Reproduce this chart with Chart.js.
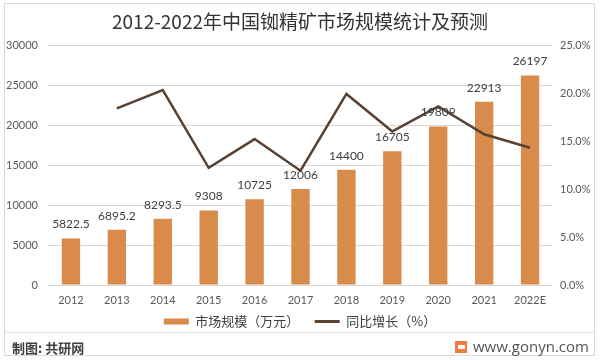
<!DOCTYPE html>
<html>
<head>
<meta charset="utf-8">
<script src="https://cdn.jsdelivr.net/npm/chart.js@4.4.1/dist/chart.umd.min.js"></script>
<style>
  body { margin: 0; background: #fff; }
  #wrap { position: relative; width: 600px; height: 360px; overflow: hidden; }
  #chart { position: absolute; left: 0; top: 0; }
  #frame { position: absolute; left: 4px; top: 3px; width: 591px; height: 353px; border: 1px solid #d9d9d9; box-sizing: border-box; pointer-events: none; }
  #sep { position: absolute; left: 5px; top: 332px; width: 589px; height: 1px; background: #e3e3e3; }
  #source { position: absolute; left: 12px; top: 338px; font: bold 13px 'Noto Sans CJK SC', sans-serif; color: #404040; }
  #logo { position: absolute; left: 455px; top: 341px; width: 12px; height: 12px; background: #f07b3a; }
  #logo::after { content: ''; position: absolute; left: 3px; top: 4px; width: 7px; height: 4px; background: #fff; }
  #site { position: absolute; left: 473px; top: 336px; font: 15px 'Open Sans', sans-serif; color: #555; }
</style>
</head>
<body>
<div id="wrap">
  <canvas id="chart" width="600" height="360"></canvas>
  <div id="frame"></div>
  <div id="sep"></div>
  <div id="source">制图: 共研网</div>
  <div id="logo"></div>
  <div id="site">www.gonyn.com</div>
</div>
<script>
const years = ['2012', '2013', '2014', '2015', '2016', '2017', '2018', '2019', '2020', '2021', '2022E']
const marketSize = [5822.5, 6895.2, 8293.5, 9308, 10725, 12006, 14400, 16705, 19809, 22913, 26197]
const growth = [null, 18.4, 20.3, 12.2, 15.2, 11.9, 19.9, 16.0, 18.6, 15.7, 14.3]

const barColor = '#d88b4a'
const lineColor = '#5a4233'
const font = "Lato, 'Noto Sans CJK SC', sans-serif"
const cjkFont = "'Noto Sans CJK SC', sans-serif"

const barLabels = {
  id: 'barLabels',
  afterDatasetsDraw(chart) {
    const { ctx } = chart
    const meta = chart.getDatasetMeta(0)
    ctx.save()
    ctx.font = '12px ' + font
    ctx.fillStyle = '#404040'
    ctx.textAlign = 'center'
    ctx.textBaseline = 'middle'
    meta.data.forEach((bar, i) => {
      ctx.fillText(String(marketSize[i]), bar.x, bar.y - 14)
    })
    ctx.restore()
  }
}

new Chart(document.getElementById('chart'), {
  data: {
    labels: years,
    datasets: [
      {
        type: 'bar',
        label: '市场规模（万元）',
        data: marketSize,
        backgroundColor: barColor,
        yAxisID: 'y',
        barPercentage: 0.4,
        categoryPercentage: 1,
        order: 2
      },
      {
        type: 'line',
        label: '同比增长（%）',
        data: growth,
        borderColor: lineColor,
        borderWidth: 2.5,
        pointRadius: 0,
        tension: 0,
        yAxisID: 'y1',
        order: 1
      }
    ]
  },
  options: {
    responsive: false,
    animation: false,
    layout: { padding: { left: 0, right: 0, top: 0, bottom: 22 } },
    plugins: {
      title: {
        display: true,
        text: '2012-2022年中国铷精矿市场规模统计及预测',
        color: '#333',
        font: { family: cjkFont, size: 19, weight: 'normal' },
        padding: { top: 10, bottom: 12.2 }
      },
      legend: {
        position: 'bottom',
        labels: {
          color: '#404040',
          font: { family: cjkFont, size: 13 },
          usePointStyle: true,
          pointStyleWidth: 25,
          boxHeight: 6,
          padding: 6,
          sort: (a, b) => a.datasetIndex - b.datasetIndex,
          generateLabels: chart => Chart.defaults.plugins.legend.labels.generateLabels(chart).map(l => ({
            ...l,
            text: l.datasetIndex === 0 ? l.text + '\u3000 ' : l.text,
            pointStyle: l.datasetIndex === 0 ? 'rect' : 'line',
            fillStyle: l.datasetIndex === 0 ? barColor : lineColor,
            strokeStyle: l.datasetIndex === 0 ? barColor : lineColor,
            lineWidth: l.datasetIndex === 0 ? 0 : 3
          }))
        }
      },
      tooltip: { enabled: false }
    },
    scales: {
      x: {
        grid: { display: false, drawTicks: false },
        border: { display: false },
        ticks: { color: '#595959', font: { family: font, size: 11 }, padding: 9, maxRotation: 0 },
        afterFit: s => { s.height = 24 }
      },
      y: {
        position: 'left',
        min: 0,
        max: 30000,
        ticks: { stepSize: 5000, color: '#595959', font: { family: font, size: 11 }, padding: 10, callback: v => String(v) },
        grid: { color: '#d9d9d9', drawTicks: false },
        border: { display: false },
        afterFit: s => { s.width = 48 }
      },
      y1: {
        position: 'right',
        min: 0,
        max: 25,
        ticks: { stepSize: 5, color: '#595959', font: { family: font, size: 11 }, padding: 7, callback: v => v.toFixed(1) + '%' },
        grid: { display: false, drawTicks: false },
        border: { display: false },
        afterFit: s => { s.width = 47 }
      }
    }
  },
  plugins: [barLabels]
})
</script>
</body>
</html>
